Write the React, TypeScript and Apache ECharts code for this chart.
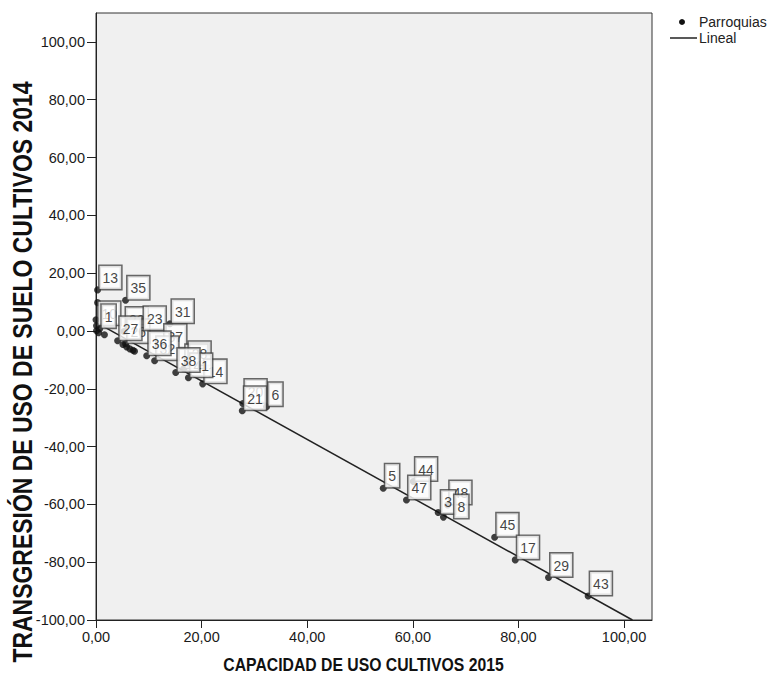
import React, { useEffect, useRef } from "react";
import * as echarts from "echarts";

// Case labels and values
const caseLabels = [
  "10", "1", "13", "", "35", "", "", "", "",
  "22", "26", "27", "", "", "", "", "",
  "23", "31", "37", "32", "36", "18", "28", "14", "41", "38",
  "20", "6", "21",
  "5", "44", "47", "48", "3", "8", "45", "17", "29", "43",
];
const capacidad2015 = [
  0.1, 0.7, 0.3, 0.3, 5.6, 0.0, 0.1, 0.5, 1.6,
  5.3, 5.6, 4.1, 5.1, 5.8, 6.4, 7.0, 7.3,
  8.7, 14.0, 12.6, 11.1, 9.6, 16.6, 17.2, 20.2, 17.5, 15.1,
  27.8, 32.3, 27.7,
  54.4, 60.1, 58.8, 66.6, 64.8, 65.8, 75.5, 79.4, 85.7, 93.2,
];
const transgresion2014 = [
  1.8, 0.8, 14.2, 9.8, 10.6, 3.9, 0.1, -0.6, -1.3,
  -0.2, -4.4, -3.4, -4.7, -5.5, -6.2, -6.7, -7.0,
  0.1, 2.5, -6.1, -10.3, -8.6, -13.1, -12.0, -18.3, -16.2, -14.4,
  -25.1, -26.2, -27.6,
  -54.4, -52.1, -58.5, -60.2, -62.8, -64.4, -71.4, -79.2, -85.3, -91.7,
];

// Fitted line end points
const lineStart = [0, 3];
const lineEnd = [101.6, -100];

const xTicks = [0, 20, 40, 60, 80, 100];
const yTicks = [-100, -80, -60, -40, -20, 0, 20, 40, 60, 80, 100];

const xTitle = "CAPACIDAD DE USO CULTIVOS 2015";
const yTitle = "TRANSGRESIÓN DE USO DE SUELO CULTIVOS 2014";
const legendNames = ["Parroquias", "Lineal"];

// small nudges of some label boxes (layout only)
const labelNudge: Record<string, [number, number]> = { "8": [9, 2], "3": [1, 2] };

const FONT = "'Liberation Sans', Arial, sans-serif";
const fmt = (v: number) => v.toFixed(2).replace(".", ",");

export default function App() {
  const ref = useRef<HTMLDivElement>(null);
  useEffect(() => {
    if (!ref.current) return;
    const chart = echarts.init(ref.current, null, { renderer: "svg" });
    const points = capacidad2015.map((x, i) => {
      const n = labelNudge[caseLabels[i]] || [0, 0];
      return {
        value: [x, transgresion2014[i]],
        label: {
          show: caseLabels[i] !== "",
          formatter: caseLabels[i],
          position: [5.5 + n[0], 2.5 + n[1]],
        },
      };
    });
    const axisText = { fontSize: 14.5, color: "#1a1a1a", fontFamily: FONT };
    chart.setOption({
      animation: false,
      backgroundColor: "#ffffff",
      grid: {
        left: 96,
        top: 13,
        right: 120,
        bottom: 61,
        show: true,
        backgroundColor: "#f0f0f0",
        borderColor: "#333",
        borderWidth: 1,
      },
      xAxis: {
        type: "value",
        min: 0,
        max: 105.3,
        interval: 20,
        axisLine: { show: true, onZero: false, lineStyle: { color: "#222", width: 1 } },
        axisTick: { show: true, length: 8, customValues: xTicks, lineStyle: { color: "#222" } },
        axisLabel: {
          customValues: xTicks,
          formatter: (v: number) => fmt(v),
          margin: 9,
          ...axisText,
        },
        splitLine: { show: false },
      },
      yAxis: {
        type: "value",
        min: -100,
        max: 110,
        interval: 20,
        axisLine: { show: true, onZero: false, lineStyle: { color: "#222", width: 1 } },
        axisTick: { show: true, length: 9, customValues: yTicks, lineStyle: { color: "#222" } },
        axisLabel: {
          customValues: yTicks,
          formatter: (v: number) => fmt(v),
          margin: 11,
          ...axisText,
        },
        splitLine: { show: false },
      },
      series: [
        {
          type: "line",
          name: legendNames[1],
          data: [lineStart, lineEnd],
          showSymbol: false,
          symbol: "none",
          z: 1,
          lineStyle: { color: "#222", width: 1.5 },
        },
        {
          type: "scatter",
          name: legendNames[0],
          data: points,
          symbolSize: 7,
          z: 2,
          itemStyle: { color: "#111" },
          label: {
            show: true,
            align: "left",
            verticalAlign: "bottom",
            fontSize: 14,
            lineHeight: 16,
            fontFamily: FONT,
            color: "#111",
            backgroundColor: "#ffffff",
            borderColor: "#444",
            borderWidth: 1.5,
            padding: [4, 3, 3, 3],
          },
        },
      ],
      graphic: [
        {
          type: "text",
          x: 363.5,
          y: 664,
          scaleX: 0.83,
          style: {
            text: xTitle,
            font: `bold 19px ${FONT}`,
            fill: "#111",
            textAlign: "center",
            textVerticalAlign: "middle",
          },
        },
        {
          type: "text",
          x: 22,
          y: 372,
          rotation: Math.PI / 2,
          scaleX: 0.82,
          style: {
            text: yTitle,
            font: `bold 28px ${FONT}`,
            fill: "#111",
            textAlign: "center",
            textVerticalAlign: "middle",
          },
        },
        {
          type: "circle",
          shape: { cx: 682, cy: 22, r: 3 },
          style: { fill: "#111" },
        },
        {
          type: "text",
          x: 699,
          y: 22,
          style: {
            text: legendNames[0],
            font: `14px ${FONT}`,
            fill: "#222",
            textVerticalAlign: "middle",
          },
        },
        {
          type: "line",
          shape: { x1: 670, y1: 38, x2: 697, y2: 38 },
          style: { stroke: "#222", lineWidth: 1.5 },
        },
        {
          type: "text",
          x: 699,
          y: 38,
          style: {
            text: legendNames[1],
            font: `14px ${FONT}`,
            fill: "#222",
            textVerticalAlign: "middle",
          },
        },
      ],
    });
    return () => chart.dispose();
  }, []);
  return (
    <div
      ref={ref}
      style={{ position: "absolute", left: 0, top: 0, width: 772, height: 681 }}
    />
  );
}
